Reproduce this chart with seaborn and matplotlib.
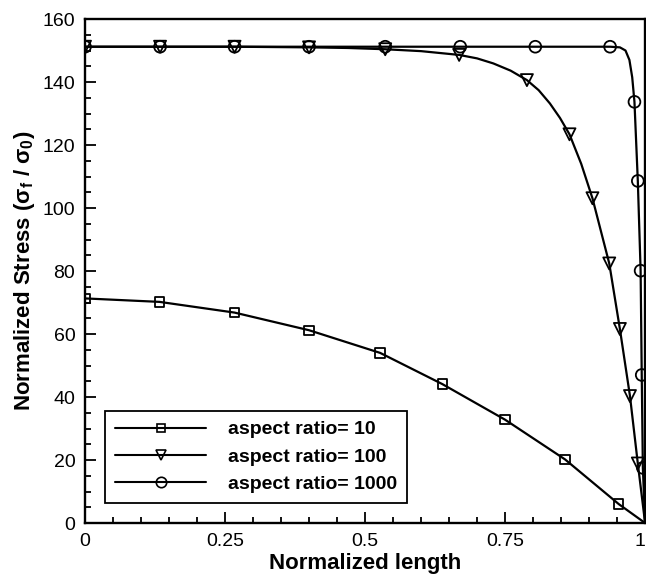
import numpy as np
import pandas as pd
import matplotlib
matplotlib.use("Agg")
import matplotlib.pyplot as plt
from matplotlib.lines import Line2D
from matplotlib.ticker import MultipleLocator
import seaborn as sns

# aspect ratio = 10 (square markers)
ar10_mx = [0, 0.133, 0.267, 0.4, 0.527, 0.638, 0.75, 0.857, 0.953]
ar10_my = [71.3, 70.2, 66.8, 61.2, 54.0, 44.1, 32.8, 20.2, 6.0]
ar10_lx = ar10_mx + [1.0]
ar10_ly = ar10_my + [0.0]

# aspect ratio = 100 (triangle markers)
ar100_mx = [0, 0.134, 0.267, 0.4, 0.536, 0.668, 0.789, 0.865, 0.906, 0.936, 0.955, 0.973, 0.987]
ar100_my = [151.2, 151.2, 151.2, 151.0, 150.4, 148.6, 140.6, 123.4, 103.1, 82.4, 61.6, 40.3, 18.9]
ar100_lx = [0, 0.134, 0.267, 0.4, 0.47, 0.536, 0.6, 0.668, 0.70, 0.729, 0.76, 0.789,
            0.81, 0.83, 0.848, 0.865, 0.886, 0.906, 0.936, 0.955, 0.973, 0.987, 1.0]
ar100_ly = [151.2, 151.2, 151.2, 151.0, 150.8, 150.4, 149.8, 148.6, 147.5, 145.9, 143.6, 140.6,
            137.4, 133.2, 128.6, 123.4, 114.0, 103.1, 82.4, 61.6, 40.3, 18.9, 0.0]

# aspect ratio = 1000 (circle markers)
ar1000_mx = [0, 0.134, 0.267, 0.4, 0.536, 0.67, 0.804, 0.9375, 0.981, 0.987, 0.992, 0.994, 0.996]
ar1000_my = [151.2, 151.2, 151.2, 151.2, 151.2, 151.2, 151.2, 151.2, 133.7, 108.6, 80.1, 47.0, 17.5]
ar1000_lx = [0, 0.4, 0.804, 0.9375, 0.955, 0.965, 0.972, 0.977, 0.981, 0.987, 0.992, 0.994, 0.996, 1.0]
ar1000_ly = [151.2, 151.2, 151.2, 151.2, 151.0, 150.0, 147.0, 141.5, 133.7, 108.6, 80.1, 47.0, 17.5, 0.0]

labels = ["aspect ratio= 10", "aspect ratio= 100", "aspect ratio= 1000"]
markers = ["s", "v", "o"]
xtick_vals = [0, 0.25, 0.5, 0.75, 1]
xtick_text = ["0", "0.25", "0.5", "0.75", "1"]

sns.set_style("ticks")
plt.rcParams["font.family"] = ["Liberation Sans", "DejaVu Sans"]
plt.rcParams["mathtext.fontset"] = "custom"
plt.rcParams["mathtext.rm"] = "Liberation Sans"
plt.rcParams["mathtext.it"] = "Liberation Sans"
plt.rcParams["mathtext.bf"] = "Liberation Sans:bold"
plt.rcParams["text.color"] = "black"
plt.rcParams["axes.labelcolor"] = "black"
plt.rcParams["xtick.color"] = "black"
plt.rcParams["ytick.color"] = "black"

fig = plt.figure(figsize=(6.46, 5.83), dpi=100)
ax = fig.add_axes([0.1316, 0.1029, 0.867, 0.8645])

series = [
    (ar10_lx, ar10_ly, ar10_mx, ar10_my, 46),
    (ar100_lx, ar100_ly, ar100_mx, ar100_my, 75),
    (ar1000_lx, ar1000_ly, ar1000_mx, ar1000_my, 72),
]
for (lx, ly, mx, my, s), mk in zip(series, markers):
    line_df = pd.DataFrame({"x": lx, "y": ly})
    mark_df = pd.DataFrame({"x": mx, "y": my})
    sns.lineplot(data=line_df, x="x", y="y", ax=ax, color="black",
                 linewidth=1.6, estimator=None, sort=False, legend=False)
    sns.scatterplot(data=mark_df, x="x", y="y", ax=ax, marker=mk, s=s,
                    facecolor="none", edgecolor="black", linewidth=1.3,
                    legend=False, zorder=3)

ax.set_xlim(0, 1)
ax.set_ylim(0, 160)
ax.xaxis.set_minor_locator(MultipleLocator(0.05))
ax.yaxis.set_major_locator(MultipleLocator(20))
ax.yaxis.set_minor_locator(MultipleLocator(5))
ax.set_xticks(xtick_vals)
ax.set_xticklabels(xtick_text)
ax.get_xticklabels()[-1].set_horizontalalignment("right")

ax.tick_params(which="both", direction="in", top=False, right=False,
               width=1.3, labelsize=14)
ax.tick_params(which="major", length=8, pad=7)
ax.tick_params(which="minor", length=4.5)
for sp in ax.spines.values():
    sp.set_linewidth(1.7)
    sp.set_color("black")

ax.set_xlabel("Normalized length", fontsize=16, fontweight="bold", labelpad=2)
ax.set_ylabel(r"Normalized Stress ($\mathbf{\sigma_f}$ / $\mathbf{\sigma_0}$)",
              fontsize=16, fontweight="bold", labelpad=4)

handles = [
    Line2D([], [], color="black", linewidth=1.5, marker="s", markersize=5.5,
           markerfacecolor="none", markeredgewidth=1.2),
    Line2D([], [], color="black", linewidth=1.5, marker="v", markersize=7.5,
           markerfacecolor="none", markeredgewidth=1.2),
    Line2D([], [], color="black", linewidth=1.5, marker="o", markersize=7.5,
           markerfacecolor="none", markeredgewidth=1.2),
]
leg = ax.legend(handles, labels, loc="lower left", bbox_to_anchor=(0.036, 0.04),
                borderaxespad=0, frameon=True, fancybox=False, shadow=False,
                prop={"weight": "bold", "size": 14}, handlelength=4.7,
                handletextpad=1.1, labelspacing=0.5, borderpad=0.5,
                numpoints=1)
leg.get_frame().set_edgecolor("black")
leg.get_frame().set_linewidth(1.3)
leg.get_frame().set_alpha(1)

fig.savefig("out.png", dpi=100)
